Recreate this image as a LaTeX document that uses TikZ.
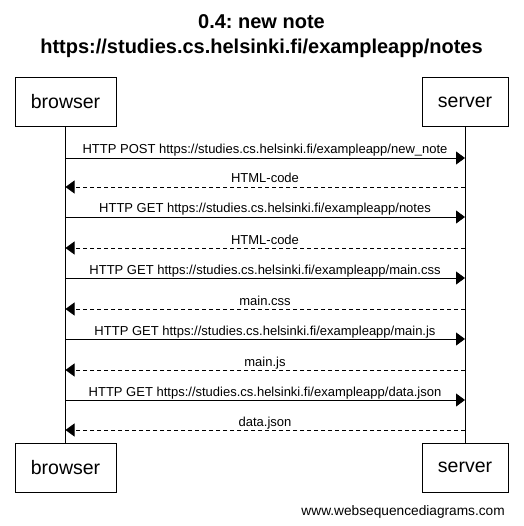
\documentclass[tikz,border=0pt]{standalone}
\usepackage{fontspec}
\setmainfont{Liberation Sans}
\usetikzlibrary{arrows.meta}
\frenchspacing
\begin{document}
\begin{tikzpicture}[x=1pt,y=-1pt,
  actor/.style={draw,line width=0.8pt,minimum height=49pt,inner sep=0pt,font=\fontsize{19.5}{22}\selectfont},
  msg/.style={line width=0.8pt,-{Triangle[length=9pt,width=13pt]}},
  reply/.style={msg,dash pattern=on 4pt off 3pt},
  lbl/.style={font=\fontsize{13}{15}\selectfont,inner sep=0pt,anchor=base}]
\useasboundingbox (0,0) rectangle (523,526);
\fill[white] (0,0) rectangle (523,526);
\node[font=\bfseries\fontsize{20}{25}\selectfont,align=center] (title) at (261.5,36)
  {0.4: new note\\https://studies.cs.helsinki.fi/exampleapp/notes};
\node[actor,minimum width=101pt] (bt) at (65.5,102) {browser};
\node[actor,minimum width=86pt] (st) at (465,102) {server};
\node[actor,minimum width=101pt] (bb) at (65.5,467.5) {browser};
\node[actor,minimum width=86pt] (sb) at (465,467.5) {server};
\draw[line width=0.8pt] (bt.south) -- (bb.north);
\draw[line width=0.8pt] (st.south) -- (sb.north);
\foreach \y/\t/\k in {
  158/{HTTP POST https://studies.cs.helsinki.fi/exampleapp/new\_note}/p1,
  217/{HTTP GET https://studies.cs.helsinki.fi/exampleapp/notes}/p2,
  278/{HTTP GET https://studies.cs.helsinki.fi/exampleapp/main.css}/p3,
  339/{HTTP GET https://studies.cs.helsinki.fi/exampleapp/main.js}/p4,
  400/{HTTP GET https://studies.cs.helsinki.fi/exampleapp/data.json}/p5}{
  \coordinate (\k a) at (bt.south |- 0,\y);
  \coordinate (\k b) at (st.south |- 0,\y);
  \draw[msg] (\k a) -- (\k b);
  \node[lbl] at (265,\y-4) {\t};
}
\foreach \y/\t/\k in {
  187/{HTML-code}/r1,
  248/{HTML-code}/r2,
  309/{main.css}/r3,
  370/{main.js}/r4,
  430/{data.json}/r5}{
  \coordinate (\k a) at (st.south |- 0,\y);
  \coordinate (\k b) at (bt.south |- 0,\y);
  \draw[reply] (\k a) -- (\k b);
  \node[lbl] at (265,\y-4) {\t};
}
\node[font=\fontsize{13.7}{15}\selectfont,anchor=base east,inner sep=0pt] (foot) at (505,515) {www.websequencediagrams.com};
\end{tikzpicture}
\end{document}
